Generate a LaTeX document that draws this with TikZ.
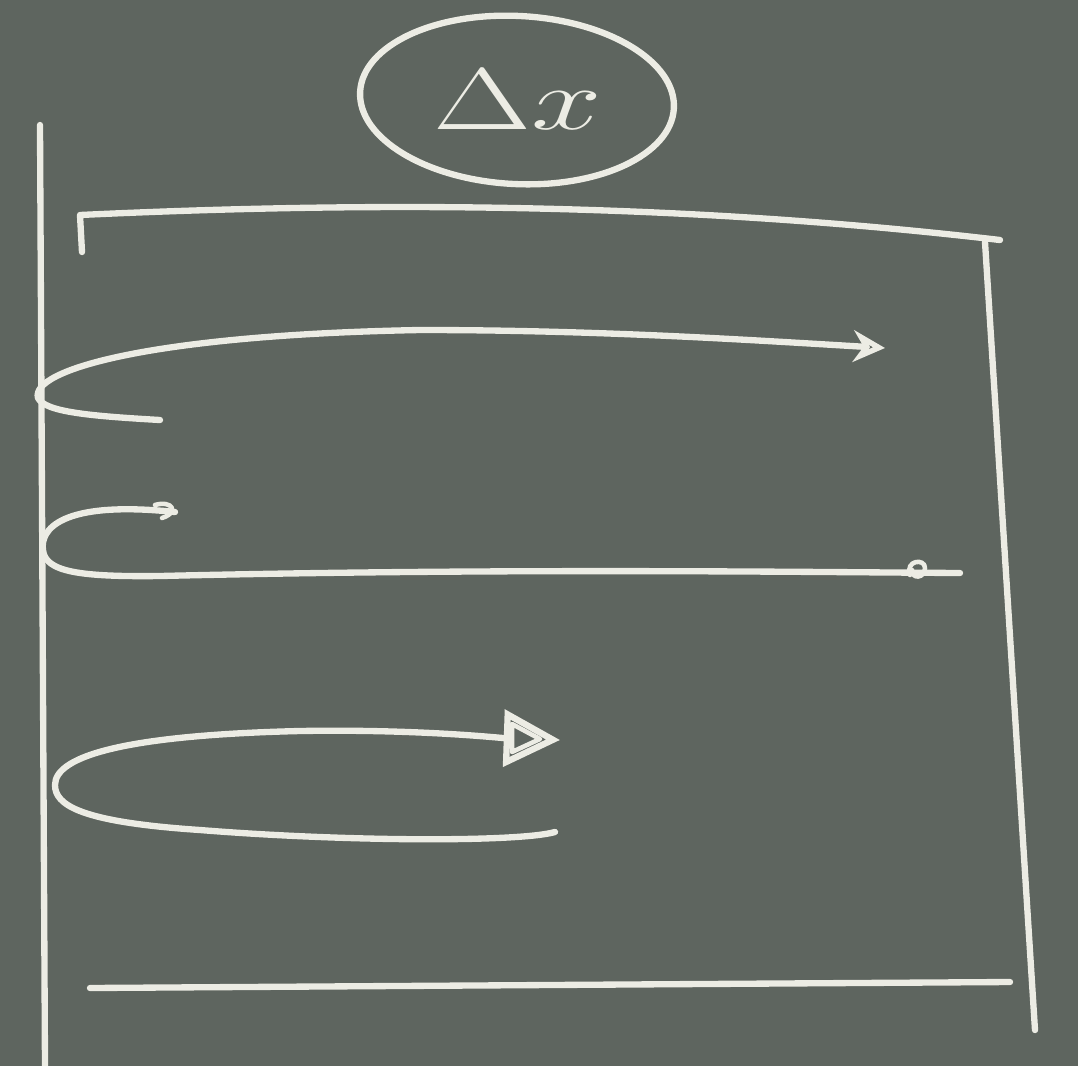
\documentclass[tikz,border=0pt]{standalone}
\usetikzlibrary{arrows.meta,shapes.geometric}
\definecolor{board}{RGB}{94,101,95}
\definecolor{chalk}{RGB}{236,236,228}
\begin{document}
\begin{tikzpicture}[x=0.01cm,y=-0.01cm,
  chalkline/.style={draw=chalk,line width=1.8pt,line cap=round,line join=round},
  thinchalk/.style={draw=chalk,line width=1.3pt,line cap=round,line join=round}]
\fill[board] (0,0) rectangle (1078,1066);
\useasboundingbox (0,0) rectangle (1078,1066);
% frame lines
\draw[chalkline] (40,125) -- (45,1066);
\draw[chalkline] (82,252) -- (80,215) .. controls (400,200) and (700,205) .. (1000,240);
\draw[chalkline] (985,242) -- (1035,1030);
\draw[chalkline] (90,988) -- (1010,982);
% label ellipse
\node[draw=chalk,line width=1.8pt,ellipse,inner sep=0pt,
  minimum width=3.14cm,minimum height=1.68cm,rotate=-3] (lab) at (517,100) {};
\node[text=chalk,font=\fontsize{32}{34}\selectfont\sffamily,xscale=1.45] (labtxt) at (518,100) {$\Delta x$};
% loop 1
\draw[chalkline,-{Stealth[open,length=9pt,width=9pt]}] (160,420) .. controls (90,416) and (45,412) .. (38,398)
  .. controls (30,370) and (150,335) .. (420,330) .. controls (600,330) and (750,340) .. (885,348);
% loop 2
\draw[chalkline] (175,512) .. controls (60,500) and (40,530) .. (43,550)
  .. controls (45,572) and (80,577) .. (160,576) .. controls (500,568) and (800,572) .. (960,573);
\draw[thinchalk] (155,505) .. controls (172,500) and (180,512) .. (162,518);
\draw[thinchalk] (910,575) .. controls (905,560) and (925,558) .. (925,568) .. controls (925,578) and (912,580) .. (912,570);
% loop 3
\draw[chalkline,-{Triangle[open,length=16pt,width=16pt]}] (555,832) .. controls (520,842) and (350,842) .. (200,830)
  .. controls (80,822) and (55,805) .. (55,785) .. controls (55,755) and (130,735) .. (300,731)
  .. controls (420,729) and (500,738) .. (560,740);
\draw[thinchalk] (512,724) -- (540,739) -- (512,752) -- cycle;
\end{tikzpicture}
\end{document}
